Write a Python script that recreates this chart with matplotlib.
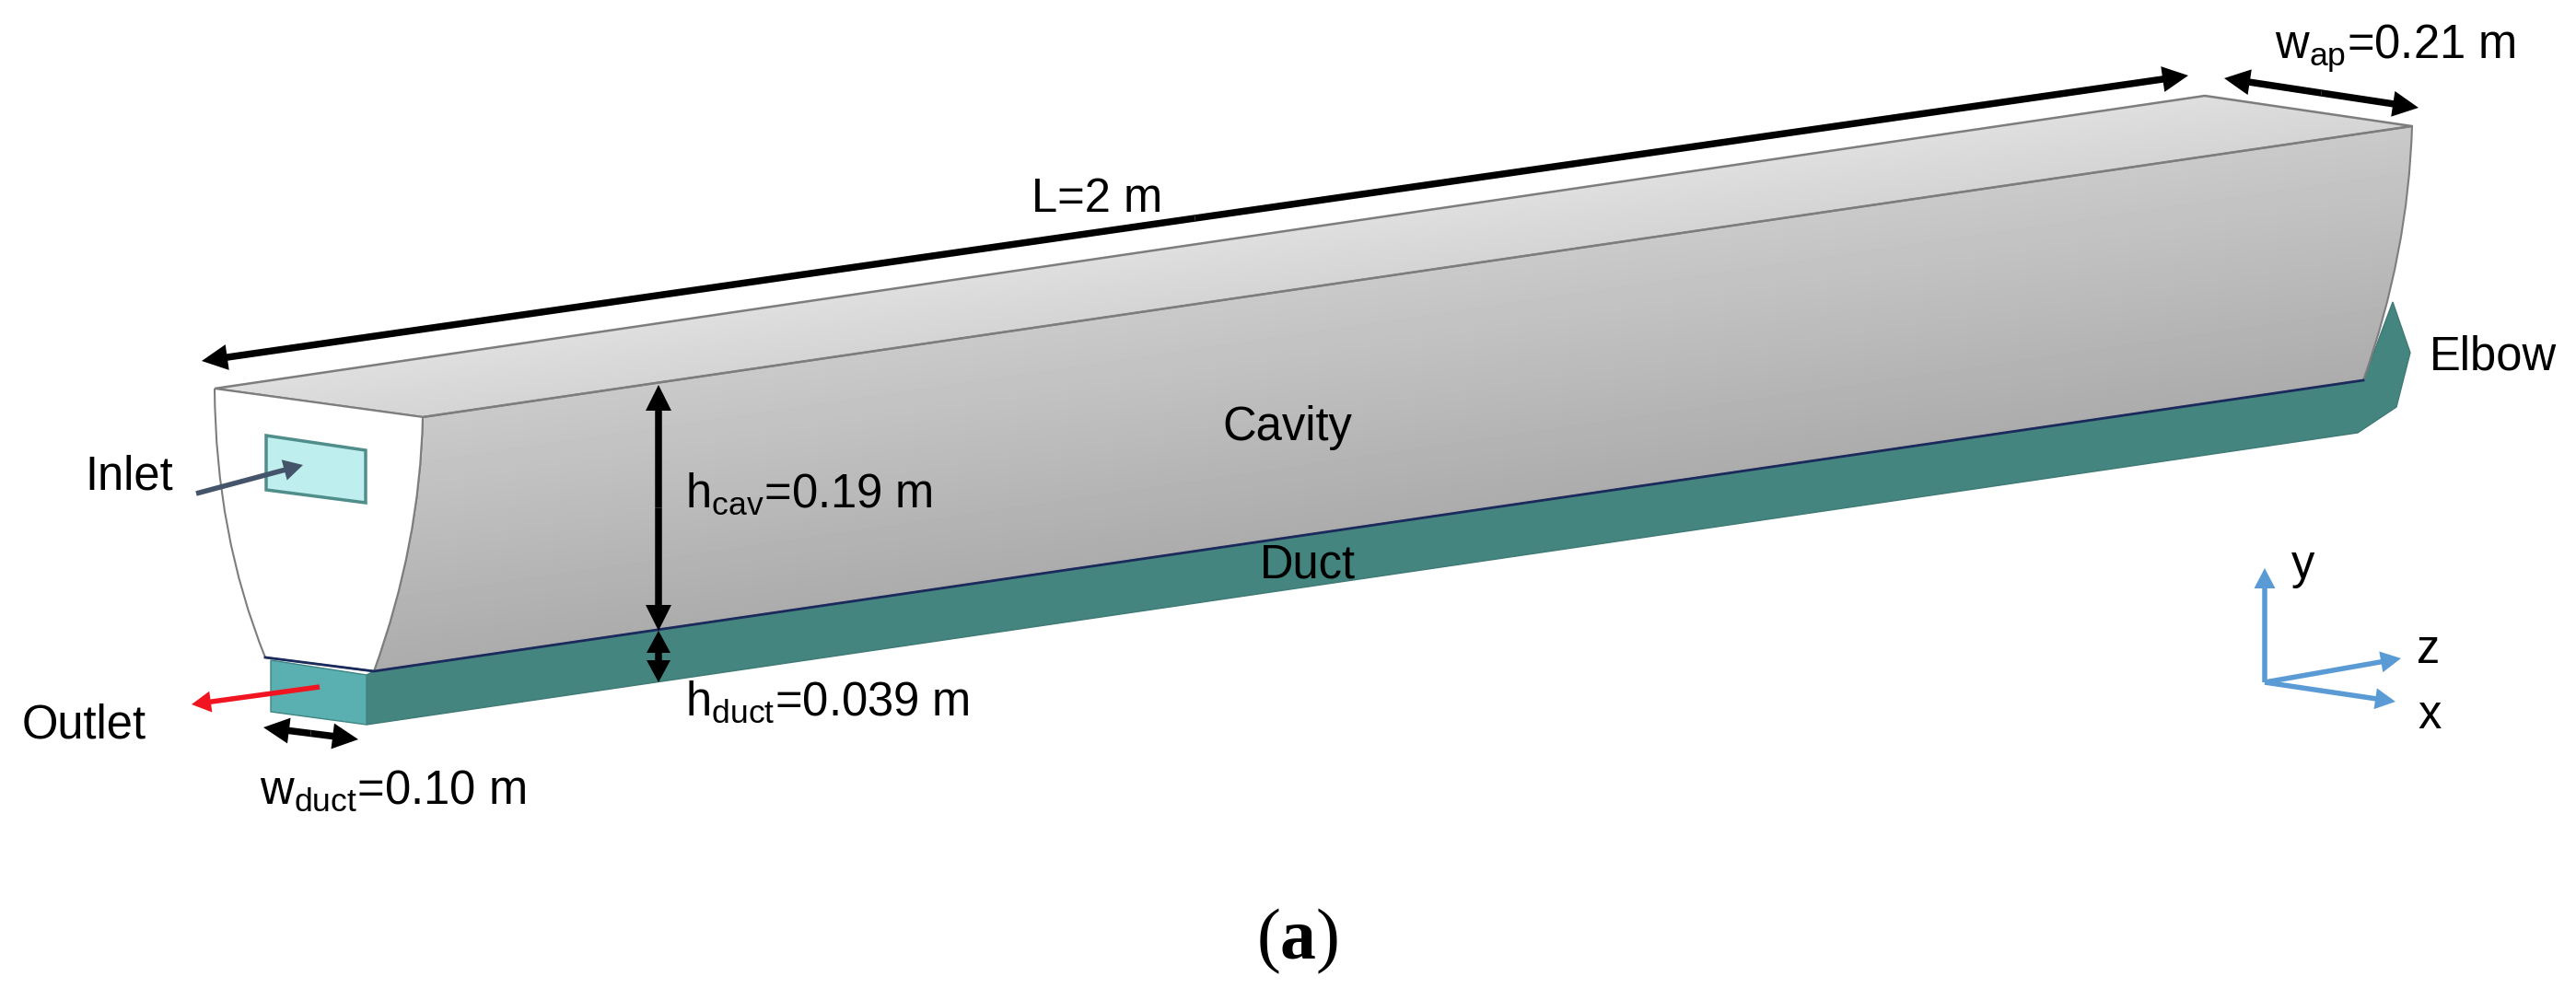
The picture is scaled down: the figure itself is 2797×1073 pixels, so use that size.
import numpy as np
import matplotlib
matplotlib.use("Agg")
import matplotlib.pyplot as plt
from matplotlib.patches import PathPatch, Polygon, FancyArrowPatch
from matplotlib.path import Path

plt.rcParams['font.family'] = ['Liberation Sans', 'DejaVu Sans']
plt.rcParams['mathtext.fontset'] = 'custom'
plt.rcParams['mathtext.rm'] = 'Liberation Sans'
plt.rcParams['mathtext.bf'] = 'Liberation Serif:bold'
plt.rcParams['mathtext.default'] = 'rm'

W, H = 2797, 1073

# geometry, pixel coords
top_face = [(233, 422), (2394, 104), (2619, 137), (459, 453)]
side_face = [(459, 453), (2619, 137), (2615, 275), (2566, 413), (406, 729), (456, 591)]
front_face = [(233, 422), (459, 453), (456, 591), (406, 729), (288, 714), (234, 580)]
duct_side = [(398, 733), (406, 729), (2566, 413), (2598, 328), (2617, 383),
             (2602, 442), (2560, 470), (398, 787)]
duct_front = [(294, 717), (398, 733), (398, 787), (294, 773)]
inlet_rect = [(289, 473), (397, 489), (397, 546), (289, 532)]
navy_edge = [(288, 714), (406, 729), (2566, 413)]

black_arrows = [((219, 392), (2376, 82)), ((2415, 85), (2626, 117)),
                ((715, 418), (715, 685)), ((286, 790), (389, 803))]
hduct_arrow = ((715, 685), (715, 741))
inlet_arrow = ((213, 536), (329, 505))
outlet_arrow = ((347, 746), (208, 765))
axes_origin = (2459, 741)
axes_tips = [(2459, 617), (2607, 715), (2601, 762)]

labels = ["Inlet", "Outlet", "L=2 m", "Cavity", "Duct", "Elbow", "y", "z", "x",
          r"h$_{\mathrm{cav}}$=0.19 m", r"h$_{\mathrm{duct}}$=0.039 m",
          r"w$_{\mathrm{duct}}$=0.10 m", r"w$_{\mathrm{ap}}$=0.21 m"]
label_x = [92, 24, 1120, 1327, 1368, 2638, 2488, 2624, 2625, 744, 744, 282, 2470]
label_y = [531, 801, 230, 478, 628, 401, 628, 720, 791, 551, 777, 873, 63]


def curved(p):
    # straight corners, with the curved sides as quadratic beziers
    verts = [p[0], p[1], p[2], p[3], p[4], p[5], p[0]]
    codes = [Path.MOVETO, Path.LINETO, Path.CURVE3, Path.CURVE3, Path.LINETO,
             Path.CURVE3, Path.CURVE3]
    return Path(verts, codes)


def shade(ax, patch, g0, g1, x0, y0, dy):
    # grey gradient running across the long edge of the box
    xs, ys = np.meshgrid(np.arange(0, W, 4), np.arange(0, H, 4))
    slope = -316 / 2160
    t = np.clip((ys - (y0 + (xs - x0) * slope)) / dy, 0, 1)
    im = ax.imshow(g0 + (g1 - g0) * t, cmap="gray", vmin=0, vmax=1,
                   extent=(0, W, H, 0), aspect="auto", zorder=patch.get_zorder(),
                   interpolation="bilinear")
    im.set_clip_path(patch)


def arrow(ax, a, b, color, tail, head_l, head_w, z=6):
    # sizes given in px of the 100 dpi picture
    k = 0.72
    style = f"simple,head_length={head_l * k},head_width={head_w * k},tail_width={tail * k}"
    ax.add_patch(FancyArrowPatch(a, b, arrowstyle=style, mutation_scale=1, color=color,
                                 lw=0, shrinkA=0, shrinkB=0, zorder=z))


def double_arrow(ax, a, b, color, tail, head_l, head_w):
    mid = ((a[0] + b[0]) / 2, (a[1] + b[1]) / 2)
    arrow(ax, mid, a, color, tail, head_l, head_w)
    arrow(ax, mid, b, color, tail, head_l, head_w)


fig = plt.figure(figsize=(W / 100, H / 100), dpi=100)
ax = fig.add_axes([0, 0, 1, 1])
ax.set_xlim(0, W)
ax.set_ylim(H, 0)
ax.axis("off")

ax.add_patch(Polygon(duct_side, closed=True, fc="#44857f", ec="#3f7a76", lw=1, zorder=1))
ax.add_patch(Polygon(duct_front, closed=True, fc="#5ab0b0", ec="#3f8583", lw=1, zorder=2))

top_patch = Polygon(top_face, closed=True, fc="none", ec="none", zorder=3)
ax.add_patch(top_patch)
shade(ax, top_patch, 0.87, 0.83, 233, 422, 64)

side_patch = PathPatch(curved(side_face), fc="none", ec="none", zorder=3)
ax.add_patch(side_patch)
shade(ax, side_patch, 0.79, 0.67, 459, 453, 276)

ax.add_patch(Polygon(top_face, closed=True, fc="none", ec="#7d7d7d", lw=1.8, zorder=4))
ax.add_patch(PathPatch(curved(side_face), fc="none", ec="#7d7d7d", lw=1.5, zorder=4))
ax.add_patch(PathPatch(curved(front_face), fc="white", ec="#7d7d7d", lw=1.5, zorder=4))
ax.plot(*zip(*navy_edge), color="#1b2a5c", lw=2, zorder=5)

ax.add_patch(Polygon(inlet_rect, closed=True, fc="#bfeeee", ec="#4f8e8b", lw=2.5, zorder=5))

for a, b in black_arrows:
    double_arrow(ax, a, b, "black", 7.5, 28, 28)
double_arrow(ax, hduct_arrow[0], hduct_arrow[1], "black", 7.5, 24, 26)
arrow(ax, inlet_arrow[0], inlet_arrow[1], "#44546a", 5.5, 21, 23)
arrow(ax, outlet_arrow[0], outlet_arrow[1], "#f01520", 5.5, 21, 23)
for tip in axes_tips:
    arrow(ax, axes_origin, tip, "#5b9bd5", 5.5, 22, 23)

for s, x, y in zip(labels, label_x, label_y):
    ax.text(x, y, s, fontsize=36.5, color="black", ha="left", va="baseline", zorder=8)

ax.text(1364, 1041, r"($\mathbf{a}$)", fontsize=56, family="Liberation Serif",
        ha="left", va="baseline", zorder=8)

fig.savefig("out.png", dpi=100, facecolor="white")
